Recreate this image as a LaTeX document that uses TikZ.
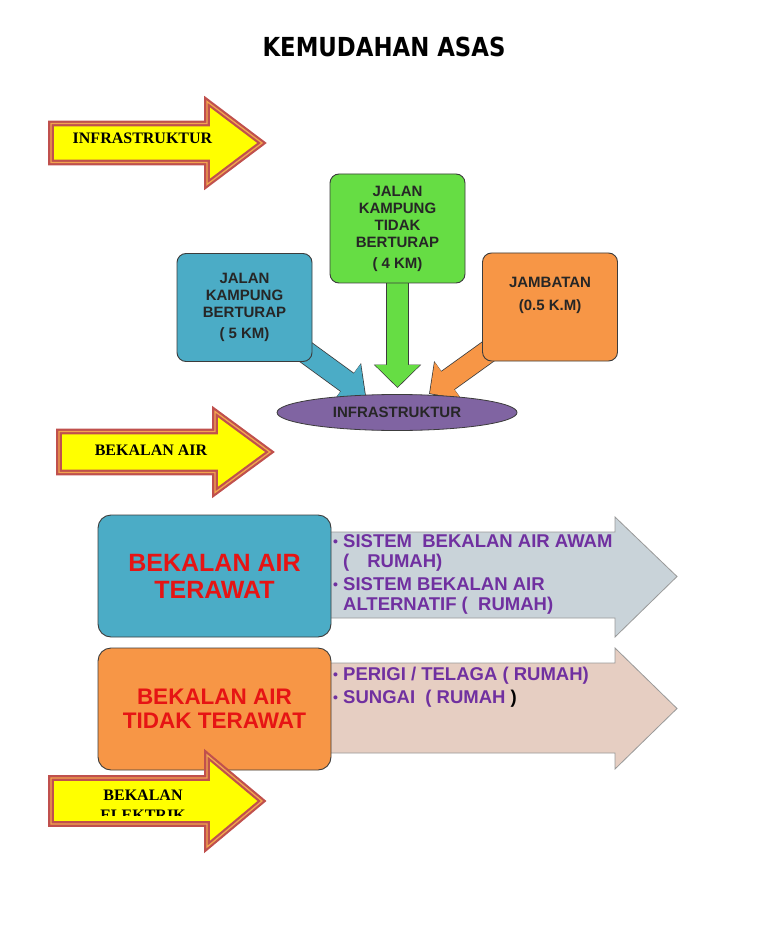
\documentclass[tikz,border=0pt]{standalone}
\usepackage{fontspec}
\setmainfont{Liberation Serif}
\setsansfont{Liberation Sans}
\newfontfamily\titlefont{DejaVu Sans}
\usetikzlibrary{arrows.meta, calc, positioning, shapes.geometric, backgrounds}
\definecolor{tagyellow}{RGB}{255,255,0}
\definecolor{tagbrown}{RGB}{192,80,77}
\definecolor{tagorange}{RGB}{242,165,80}
\definecolor{boxblue}{RGB}{75,172,198}
\definecolor{boxgreen}{RGB}{102,221,68}
\definecolor{boxorange}{RGB}{247,150,70}
\definecolor{ovalpurple}{RGB}{128,100,162}
\definecolor{listpurple}{RGB}{112,48,160}
\definecolor{boxred}{RGB}{230,20,20}
\definecolor{panelgray}{RGB}{201,211,217}
\definecolor{panelbeige}{RGB}{230,206,194}
\definecolor{edgegray}{RGB}{60,60,60}
\newcommand{\dotmark}{\makebox[10pt][l]{\raisebox{1.5pt}{\fontsize{14}{14}\selectfont •}}}
\tikzset{
  tagarrow/.style={fill=tagyellow, draw=tagbrown, line width=2.2pt, double=tagorange, double distance=1.3pt, line join=miter},
  taglabel/.style={font=\bfseries\fontsize{16}{20}\selectfont, inner sep=0pt, align=center},
  roadbox/.style={draw=edgegray, line width=0.9pt, rounded corners=9pt, minimum width=135pt, minimum height=108pt, align=center, text=black!85, font=\sffamily\bfseries\fontsize{15}{17}\selectfont},
  waterbox/.style={draw=edgegray, line width=0.9pt, rounded corners=13pt, minimum width=233pt, minimum height=122pt, align=center, text=boxred},
  listtext/.style={anchor=north west, inner sep=0pt, align=left, text=listpurple, font=\sffamily\bfseries\fontsize{18.5}{20}\selectfont},
  panel/.style={draw=gray!80, line width=0.8pt, line join=miter}
}

\begin{document}
\begin{tikzpicture}[x=1pt, y=-1pt]
    \begin{scope}[on background layer]
        \path[use as bounding box, fill=white] (0,0) rectangle (768,949);
    \end{scope}

    % Title
    \node[font=\titlefont\bfseries\fontsize{22.8}{24}\selectfont] (title) at (384,47) {\scalebox{1}[1.15]{KEMUDAHAN ASAS}};

    % Infrastruktur boxes
    \node[roadbox, fill=boxgreen, minimum height=109pt] (jkt) at (397.5,228.5) {JALAN\\KAMPUNG\\TIDAK\\BERTURAP\\[4pt]( 4 KM)};
    \node[roadbox, fill=boxblue] (jkb) at (244.5,307.5) {JALAN\\KAMPUNG\\BERTURAP\\[4pt]( 5 KM)};
    \node[roadbox, fill=boxorange] (jmb) at (550,307) {};
    \node[roadbox, draw=none, minimum width=0pt, minimum height=0pt, inner sep=0pt, below=24pt of jmb.north] (jmbtxt) {JAMBATAN\\[6pt](0.5 K.M)};

    % Ellipse
    \node[ellipse, draw=edgegray, line width=0.8pt, fill=ovalpurple, minimum width=240pt, minimum height=36pt, inner sep=0pt,
          text=black!85, font=\sffamily\bfseries\fontsize{15}{16}\selectfont] (infra) at (397,412.5) {INFRASTRUKTUR};

    \coordinate (tipb) at (366,396);
    \coordinate (tipg) at (397.5,388);
    \coordinate (tipo) at (429,394);

    % Block arrows into the ellipse
    \begin{scope}[on background layer]
        \foreach \from/\to/\col in {jkb.center/tipb/boxblue, jkt.center/tipg/boxgreen, jmb.center/tipo/boxorange} {
            \draw[line width=23.2pt, draw=edgegray, -{Triangle[width=46pt,length=23.4pt]}] (\from) -- (\to);
            \draw[line width=21.6pt, draw=\col, -{Triangle[width=43.6pt,length=22pt]}, shorten >=1.1pt] (\from) -- (\to);
        }
    \end{scope}

    % Bekalan air panels
    \draw[panel, fill=panelgray] (325,532) -- (615,532) -- (615,517) -- (677,576.5) -- (615,637) -- (615,618) -- (325,618) -- cycle;
    \draw[panel, fill=panelbeige] (325,663) -- (615,663) -- (615,648) -- (677,708.5) -- (615,769) -- (615,753) -- (325,753) -- cycle;

    \node[waterbox, fill=boxblue, font=\sffamily\bfseries\fontsize{25}{27}\selectfont] (terawat) at (214.5,576) {BEKALAN AIR\\TERAWAT};
    \node[waterbox, fill=boxorange, font=\sffamily\bfseries\fontsize{22.5}{23.5}\selectfont] (tidak) at (214.5,709) {BEKALAN AIR\\TIDAK TERAWAT};

    \node[listtext] (awam) at (333,534.5) {\dotmark SISTEM\ \ BEKALAN AIR AWAM\\\hspace*{10pt}(\hspace{18pt}RUMAH)\\[3pt]\dotmark SISTEM BEKALAN AIR\\\hspace*{10pt}ALTERNATIF (\ \ RUMAH)};
    \node[listtext] (perigi) at (333,667) {\dotmark PERIGI / TELAGA ( RUMAH)\\[3pt]\dotmark SUNGAI\ \ ( RUMAH {\color{black})}};

    % Yellow tag arrows
    \foreach \x/\y/\s/\h in {48/143/22.5/45.5, 56/452/23.5/44.5, 48/801/26/50} {
        \draw[tagarrow] ({\x+3},{\y-\s+3}) -- ({\x+159},{\y-\s+3}) -- ({\x+159},{\y-\h+4})
            -- ({\x+214},\y) -- ({\x+159},{\y+\h-4}) -- ({\x+159},{\y+\s-3}) -- ({\x+3},{\y+\s-3}) -- cycle;
    }
    \node[taglabel] (lblinfra) at (142.5,138.5) {INFRASTRUKTUR};
    \node[taglabel] (lblair) at (151,450) {BEKALAN AIR};
    \begin{scope}
        \clip (50,770) rectangle (205,815);
        \node[taglabel, anchor=north] (lblelek) at (143,790) {BEKALAN\\ELEKTRIK};
    \end{scope}
\end{tikzpicture}
\end{document}
